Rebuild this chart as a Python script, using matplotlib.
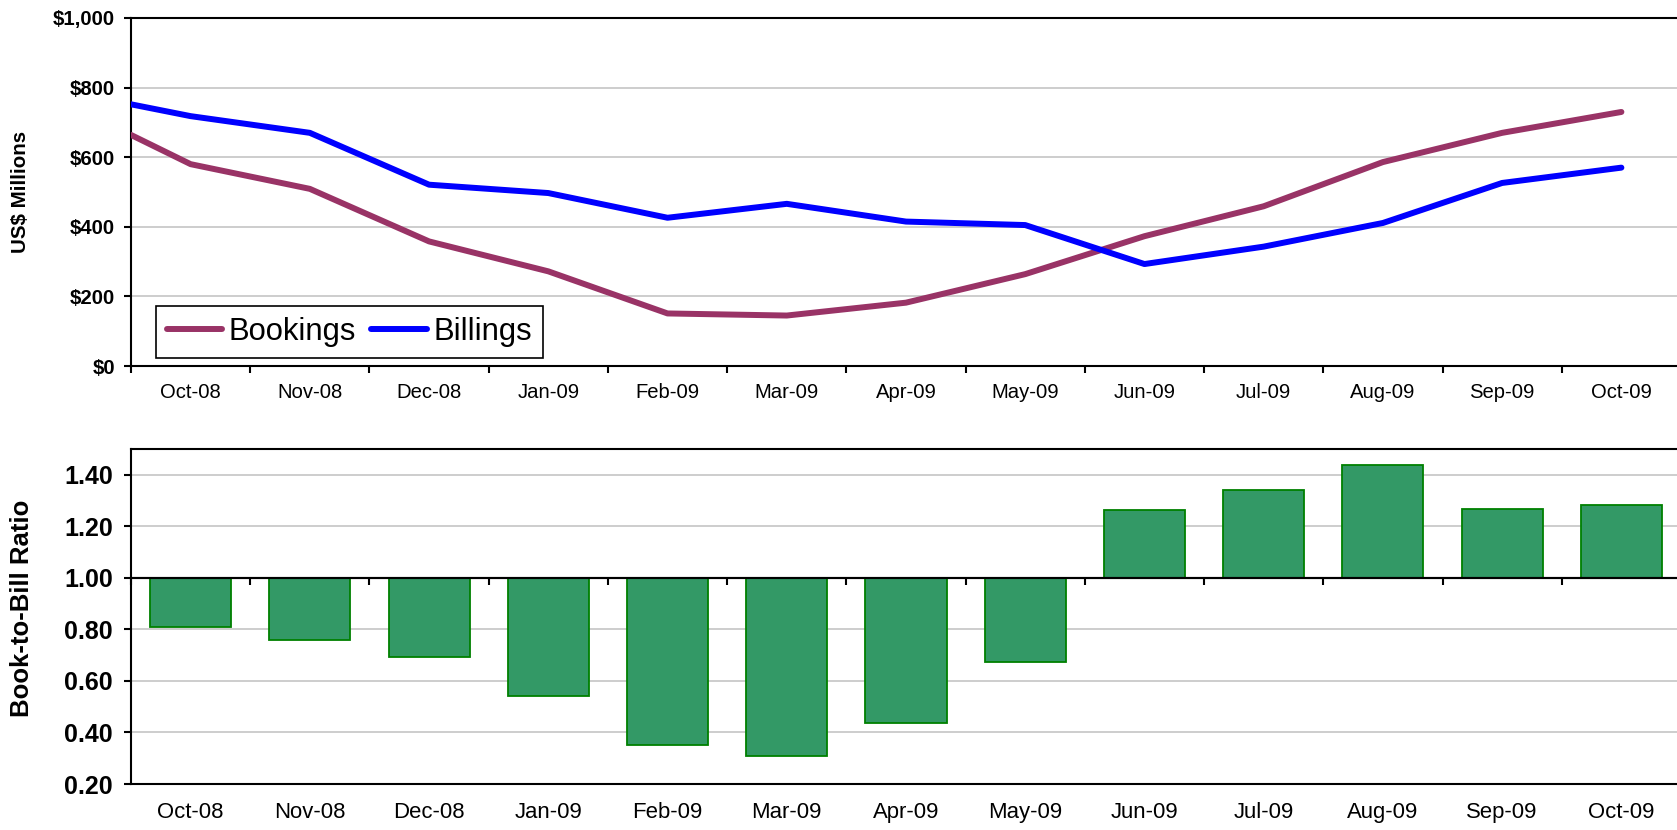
import matplotlib
matplotlib.use('Agg')
import matplotlib.pyplot as plt
import numpy as np

plt.rcParams['font.family'] = ['Liberation Sans', 'DejaVu Sans']

months = ['Oct-08', 'Nov-08', 'Dec-08', 'Jan-09', 'Feb-09', 'Mar-09', 'Apr-09',
          'May-09', 'Jun-09', 'Jul-09', 'Aug-09', 'Sep-09', 'Oct-09']
bookings = [580, 509, 358, 272, 151, 145, 182, 264, 373, 459, 586, 670, 730]
billings = [718, 670, 521, 497, 426, 466, 415, 405, 293, 343, 411, 526, 570]
# values at which the lines start, on the left edge of the plot (prior month)
bookings_lead = 664
billings_lead = 752
ratio = [0.808, 0.760, 0.693, 0.541, 0.350, 0.308, 0.438, 0.672,
         1.265, 1.342, 1.439, 1.266, 1.281]

dollar_ticks = [0, 200, 400, 600, 800, 1000]
dollar_labels = ['$0', '$200', '$400', '$600', '$800', '$1,000']
ratio_ticks = [0.2, 0.4, 0.6, 0.8, 1.0, 1.2, 1.4]
ratio_labels = ['0.20', '0.40', '0.60', '0.80', '1.00', '1.20', '1.40']

W, H = 1677, 830
fig = plt.figure(figsize=(W / 100, H / 100), dpi=100)

x = np.arange(len(months))
line_x = np.concatenate([[x[0] - 0.5], x])
bounds = np.arange(-0.5, len(months), 1.0)

GRID = '#C0C0C0'

# ---------------- top chart ----------------
ax1 = fig.add_axes([131 / W, 1 - 366 / H, 1550 / W, 348 / H])
ax1.plot(line_x, [bookings_lead] + bookings, color='#993366', lw=4.3,
         solid_capstyle='round', solid_joinstyle='round', label='Bookings', zorder=3)
ax1.plot(line_x, [billings_lead] + billings, color='#0000FF', lw=4.3,
         solid_capstyle='round', solid_joinstyle='round', label='Billings', zorder=3)
ax1.set_xlim(-0.5, len(months) - 0.5)
ax1.set_ylim(0, 1000)
ax1.set_xticks(x, labels=months, fontsize=14.6)
ax1.set_xticks(bounds, minor=True)
ax1.tick_params(axis='x', which='major', length=0, pad=12)
ax1.tick_params(axis='x', which='minor', length=5, width=1.5, direction='out', color='black')
ax1.set_yticks(dollar_ticks, labels=dollar_labels, fontsize=14.7, fontweight='bold')
ax1.tick_params(axis='y', length=5, width=1.5, pad=6.5, direction='out')
ax1.yaxis.grid(True, color=GRID, lw=1.1)
ax1.set_axisbelow(True)
for s in ['left', 'bottom', 'top', 'right']:
    ax1.spines[s].set_linewidth(1.5)
    ax1.spines[s].set_color('black')
leg = ax1.legend(loc='lower left', bbox_to_anchor=(0.016, 0.023), borderaxespad=0,
                 ncol=2, fontsize=22.3, frameon=True, fancybox=False, framealpha=1,
                 edgecolor='black', borderpad=0.35, handlelength=1.8,
                 handletextpad=0.2, columnspacing=0.5)
leg.get_frame().set_linewidth(1.2)
fig.text(21 / W, 1 - 192 / H, 'US$ Millions', rotation=90, ha='center', va='center',
         fontsize=14.8, fontweight='bold')

# ---------------- bottom chart ----------------
ax2 = fig.add_axes([131 / W, 1 - 784 / H, 1550 / W, 335 / H])
ax2.bar(x, np.array(ratio) - 1.0, bottom=1.0, width=0.68, color='#339966',
        edgecolor='#008000', lw=1.3, zorder=2)
ax2.axhline(1.0, color='black', lw=1.5, zorder=4)
ax2.set_xlim(-0.5, len(months) - 0.5)
ax2.set_ylim(0.2, 1.5)
ax2.set_xticks(x, labels=months, fontsize=15.9)
ax2.tick_params(axis='x', which='major', length=0, pad=13)
ax2.set_yticks(ratio_ticks, labels=ratio_labels, fontsize=18, fontweight='bold')
ax2.tick_params(axis='y', length=5, width=1.5, pad=8, direction='out')
ax2.yaxis.grid(True, color=GRID, lw=1.1)
ax2.set_axisbelow(True)
for s in ['left', 'bottom', 'top', 'right']:
    ax2.spines[s].set_linewidth(1.5)
    ax2.spines[s].set_color('black')

sec = ax2.secondary_xaxis(1.0, transform=ax2.transData)
sec.set_xticks(bounds)
sec.set_alignment('bottom')
sec.tick_params(axis='x', direction='out', length=5, width=1.5, color='black',
                labelbottom=False, labeltop=False)
for s in sec.spines.values():
    s.set_linewidth(1.5)
sec.set_zorder(4)

fig.text(22 / W, 1 - 608 / H, 'Book-to-Bill Ratio', rotation=90, ha='center', va='center',
         fontsize=18.5, fontweight='bold')

fig.savefig('out.png', dpi=100)
